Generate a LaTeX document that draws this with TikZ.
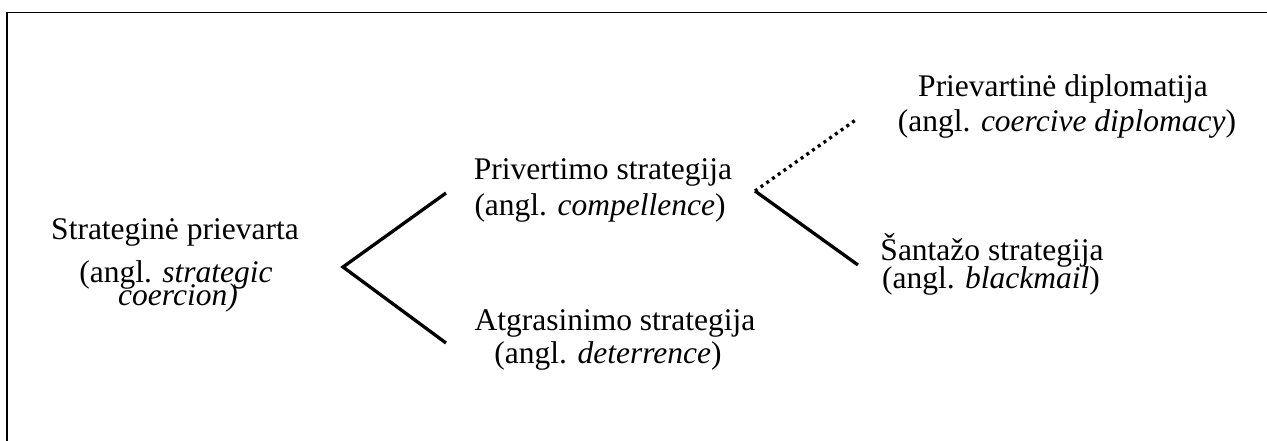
\documentclass[tikz,border=0pt]{standalone}
\usepackage{fontspec}
\setmainfont{Liberation Serif}
\begin{document}
\begin{tikzpicture}[x=1pt,y=-1pt,
  lbl/.style={anchor=base,inner sep=0pt,font=\fontsize{31.5}{36}\selectfont},
  branch/.style={line width=3.3pt,line cap=butt},
  dotbranch/.style={line width=3.3pt,dash pattern=on 3pt off 4pt},
  frame/.style={line width=1.5pt}]
\useasboundingbox (0,0) rectangle (1267,441);
\draw[frame] (1267,12.5) -- (7,12.5) -- (7,441);
% texts
\node[lbl] (sp1) at (175,240) {Strateginė prievarta};
\node[lbl] (sp2) at (176,282) {(angl. \textit{strategic}};
\node[lbl] (sp3) at (178,305) {\textit{coercion)}};
\node[lbl] (ps1) at (603,180) {Privertimo strategija};
\node[lbl] (ps2) at (600,215) {(angl. \textit{compellence})};
\node[lbl] (as1) at (615,330) {Atgrasinimo strategija};
\node[lbl] (as2) at (608,363) {(angl. \textit{deterrence})};
\node[lbl] (pd1) at (1063,97) {Prievartinė diplomatija};
\node[lbl] (pd2) at (1067,132) {(angl. \textit{coercive diplomacy})};
\node[lbl] (ss1) at (992,260) {Šantažo strategija};
\node[lbl] (ss2) at (991,288) {(angl. \textit{blackmail})};
% connector points
\coordinate (apex) at (343,267);
\coordinate (up) at (446,193);
\coordinate (down) at (446,343);
\coordinate (fork) at (755,191);
\coordinate (dip) at (857,119);
\coordinate (bm) at (858,265);
\draw[branch] (up) -- (apex) -- (down);
\draw[dotbranch] (fork) -- (dip);
\draw[branch] (fork) -- (bm);
\end{tikzpicture}
\end{document}
